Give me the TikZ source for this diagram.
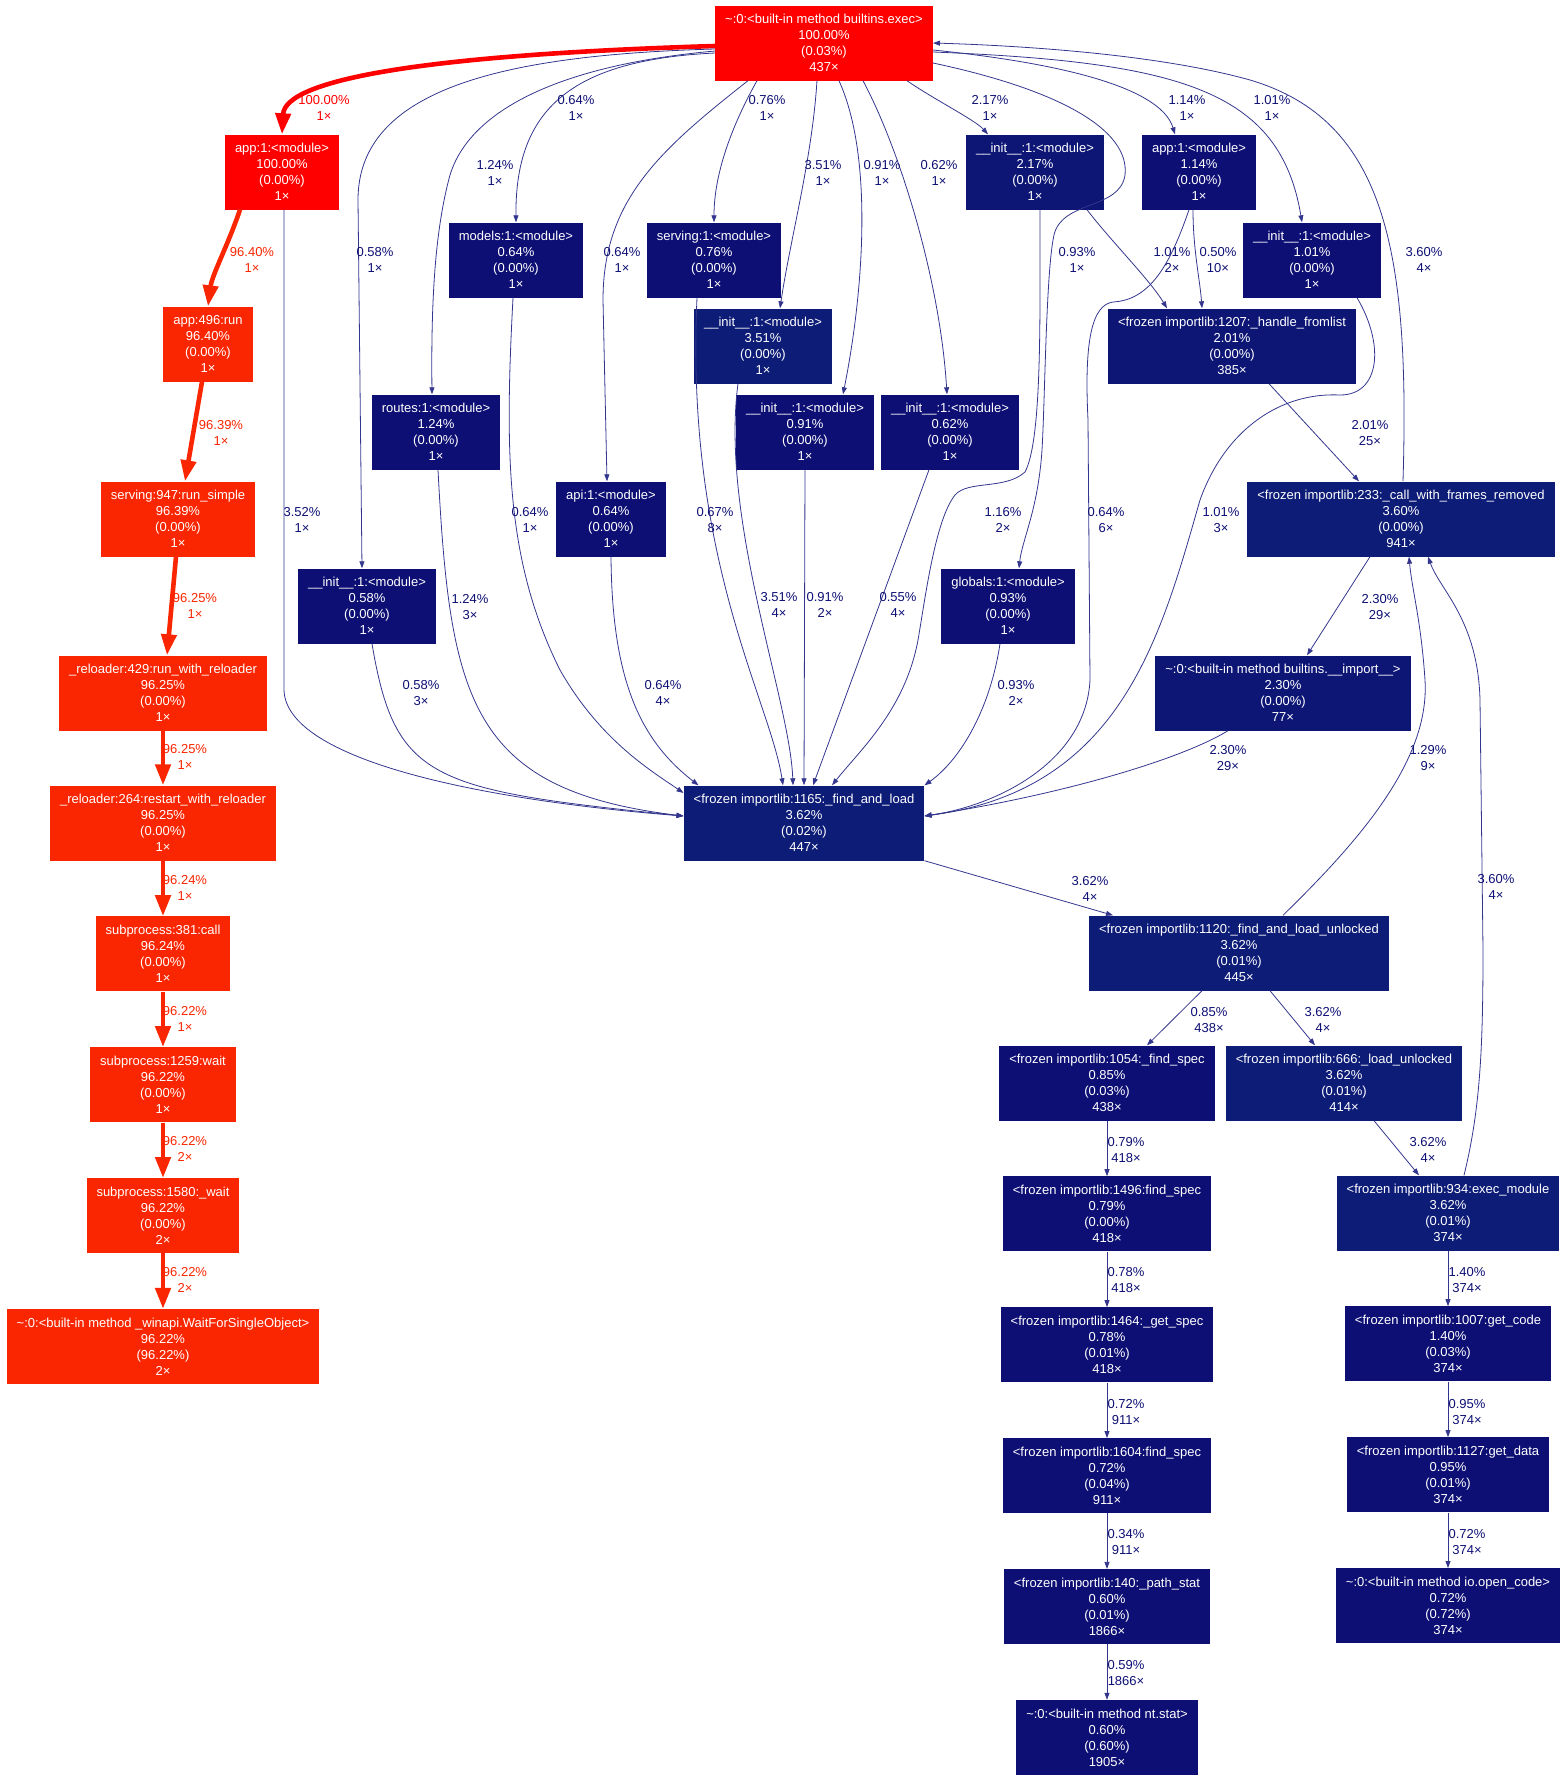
\documentclass[tikz,border=0pt]{standalone}
\usepackage{fontspec}
\setmainfont{Liberation Sans}
\usepackage{xcolor}
\definecolor{redhot}{RGB}{255,0,0}
\definecolor{redwarm}{RGB}{249,38,1}
\definecolor{navy}{RGB}{13,15,116}
\definecolor{navymid}{RGB}{13,22,117}
\definecolor{navyhi}{RGB}{13,28,119}
\definecolor{wire}{RGB}{52,54,142}
\usepackage{tikz}
\usetikzlibrary{arrows.meta,positioning}

\begin{document}
\begin{tikzpicture}[
  x=1pt,y=-1pt,
  fn/.style={rectangle,fill=#1,text=white,font=\fontsize{13}{16}\selectfont,
             align=center,inner xsep=10pt,inner ysep=0pt,minimum height=75pt},
  fn/.default=navy,
  lb/.style={font=\fontsize{13}{16}\selectfont,text=#1,align=center,inner sep=0pt},
  lb/.default=navy,
  ar/.style={draw=wire,line width=0.8pt,-{Triangle[length=7pt,width=5pt]}},
  hv/.style={draw=#1,line width=4.6pt,-{Triangle[length=21pt,width=15pt]}},
  node distance=55.5pt,
]
  \useasboundingbox (0,0) rectangle (1566,1781);

  % hot path
  \node[fn=redhot](exec) at (824,43){\textasciitilde:0:<built-in method builtins.exec>\\100.00\%\\(0.03\%)\\437×};
  \node[fn=redhot](app1) at (282,172){app:1:<module>\\100.00\%\\(0.00\%)\\1×};
  \node[fn=redwarm](run) at (208,344){app:496:run\\96.40\%\\(0.00\%)\\1×};
  \node[fn=redwarm](runsimple) at (178,519){serving:947:run\_simple\\96.39\%\\(0.00\%)\\1×};
  \node[fn=redwarm](rwr) at (163,693){\_reloader:429:run\_with\_reloader\\96.25\%\\(0.00\%)\\1×};
  \node[fn=redwarm](restart) at (163,823){\_reloader:264:restart\_with\_reloader\\96.25\%\\(0.00\%)\\1×};
  \node[fn=redwarm,below=of restart](call){subprocess:381:call\\96.24\%\\(0.00\%)\\1×};
  \node[fn=redwarm,below=of call](wait){subprocess:1259:wait\\96.22\%\\(0.00\%)\\1×};
  \node[fn=redwarm,below=of wait](pwait){subprocess:1580:\_wait\\96.22\%\\(0.00\%)\\2×};
  \node[fn=redwarm,below=of pwait](wfso){\textasciitilde:0:<built-in method \_winapi.WaitForSingleObject>\\96.22\%\\(96.22\%)\\2×};

  % modules
  \node[fn](models) at (516,260){models:1:<module>\\0.64\%\\(0.00\%)\\1×};
  \node[fn](serving) at (714,260){serving:1:<module>\\0.76\%\\(0.00\%)\\1×};
  \node[fn=navyhi](init351) at (763,346){\_\_init\_\_:1:<module>\\3.51\%\\(0.00\%)\\1×};
  \node[fn](routes) at (436,432){routes:1:<module>\\1.24\%\\(0.00\%)\\1×};
  \node[fn](init091) at (805,432){\_\_init\_\_:1:<module>\\0.91\%\\(0.00\%)\\1×};
  \node[fn](init062) at (950,432){\_\_init\_\_:1:<module>\\0.62\%\\(0.00\%)\\1×};
  \node[fn=navymid](init217) at (1035,172){\_\_init\_\_:1:<module>\\2.17\%\\(0.00\%)\\1×};
  \node[fn](app114) at (1199,172){app:1:<module>\\1.14\%\\(0.00\%)\\1×};
  \node[fn](init101) at (1312,260){\_\_init\_\_:1:<module>\\1.01\%\\(0.00\%)\\1×};
  \node[fn=navymid](fromlist) at (1232,346){<frozen importlib:1207:\_handle\_fromlist\\2.01\%\\(0.00\%)\\385×};
  \node[fn](api) at (611,519){api:1:<module>\\0.64\%\\(0.00\%)\\1×};
  \node[fn](init058) at (367,606){\_\_init\_\_:1:<module>\\0.58\%\\(0.00\%)\\1×};
  \node[fn](globals) at (1008,606){globals:1:<module>\\0.93\%\\(0.00\%)\\1×};

  % importlib
  \node[fn=navyhi](cwfr) at (1401,519){<frozen importlib:233:\_call\_with\_frames\_removed\\3.60\%\\(0.00\%)\\941×};
  \node[fn=navymid](import) at (1283,693){\textasciitilde:0:<built-in method builtins.\_\_import\_\_>\\2.30\%\\(0.00\%)\\77×};
  \node[fn=navyhi](fal) at (804,823){<frozen importlib:1165:\_find\_and\_load\\3.62\%\\(0.02\%)\\447×};
  \node[fn=navyhi](falu) at (1239,953){<frozen importlib:1120:\_find\_and\_load\_unlocked\\3.62\%\\(0.01\%)\\445×};
  \node[fn](fspec) at (1107,1083){<frozen importlib:1054:\_find\_spec\\0.85\%\\(0.03\%)\\438×};
  \node[fn=navyhi](lunl) at (1344,1083){<frozen importlib:666:\_load\_unlocked\\3.62\%\\(0.01\%)\\414×};
  \node[fn,below=of fspec](fspecb){<frozen importlib:1496:find\_spec\\0.79\%\\(0.00\%)\\418×};
  \node[fn=navyhi](exmod) at (1448,1213){<frozen importlib:934:exec\_module\\3.62\%\\(0.01\%)\\374×};
  \node[fn,below=of fspecb](getspec){<frozen importlib:1464:\_get\_spec\\0.78\%\\(0.01\%)\\418×};
  \node[fn,below=of exmod](getcode){<frozen importlib:1007:get\_code\\1.40\%\\(0.03\%)\\374×};
  \node[fn,below=of getspec](fspecc){<frozen importlib:1604:find\_spec\\0.72\%\\(0.04\%)\\911×};
  \node[fn,below=of getcode](getdata){<frozen importlib:1127:get\_data\\0.95\%\\(0.01\%)\\374×};
  \node[fn,below=of fspecc](pathstat){<frozen importlib:140:\_path\_stat\\0.60\%\\(0.01\%)\\1866×};
  \node[fn,below=of getdata](opencode){\textasciitilde:0:<built-in method io.open\_code>\\0.72\%\\(0.72\%)\\374×};
  \node[fn,below=of pathstat](ntstat){\textasciitilde:0:<built-in method nt.stat>\\0.60\%\\(0.60\%)\\1905×};

  % red edges
  \draw[hv=redhot]([yshift=-3pt]exec.west) .. controls (420,55) and (285,80) .. (app1.north);
  \draw[hv=redwarm]([xshift=-42pt]app1.south) .. controls (228,245) and (212,275) .. (run.north);
  \draw[hv=redwarm]([xshift=-6pt]run.south) -- ([xshift=7pt]runsimple.north);
  \draw[hv=redwarm]([xshift=-2pt]runsimple.south) -- ([xshift=4pt]rwr.north);
  \draw[hv=redwarm](rwr.south) -- (restart.north);
  \draw[hv=redwarm](restart.south) -- (call.north);
  \draw[hv=redwarm](call.south) -- (wait.north);
  \draw[hv=redwarm](wait.south) -- (pwait.north);
  \draw[hv=redwarm](pwait.south) -- (wfso.north);

  \node[lb=redhot](l-exec-app1) at (324,108){100.00\%\\1×};
  \node[lb=redwarm](l-app1-run) at (252,260){96.40\%\\1×};
  \node[lb=redwarm](l-run-rs) at (221,433){96.39\%\\1×};
  \node[lb=redwarm](l-rs-rwr) at (195,606){96.25\%\\1×};
  \node[lb=redwarm](l-rwr-rst) at (185,757){96.25\%\\1×};
  \node[lb=redwarm](l-rst-call) at (185,888){96.24\%\\1×};
  \node[lb=redwarm](l-call-wait) at (185,1019){96.22\%\\1×};
  \node[lb=redwarm](l-wait-pwait) at (185,1149){96.22\%\\2×};
  \node[lb=redwarm](l-pwait-wfso) at (185,1280){96.22\%\\2×};

  % calls out of exec
  \draw[ar]([yshift=-6pt]exec.west) .. controls (500,55) and (358,90) .. (358,200) -- ([xshift=-5pt]init058.north);
  \draw[ar]([yshift=-8pt]exec.west) .. controls (560,65) and (470,110) .. (450,175)
    .. controls (435,230) and (431,300) .. ([xshift=-4pt]routes.north);
  \draw[ar]([yshift=-10pt]exec.west) .. controls (570,60) and (515,110) .. (models.north);
  \draw[ar]([xshift=33pt]exec.south west) .. controls (660,150) and (603,200) .. (603,300) -- ([xshift=-4pt]api.north);
  \draw[ar]([xshift=42pt]exec.south west) .. controls (735,120) and (714,170) .. (serving.north);
  \draw[ar]([xshift=102pt]exec.south west) .. controls (812,160) and (790,240) .. ([xshift=17pt]init351.north);
  \draw[ar]([xshift=124pt]exec.south west) .. controls (875,160) and (862,300) .. ([xshift=38pt]init091.north);
  \draw[ar]([xshift=148pt]exec.south west) .. controls (900,150) and (940,280) .. ([xshift=-3pt]init062.north);
  \draw[ar]([xshift=192pt]exec.south west) .. controls (935,100) and (975,120) .. ([xshift=-47pt]init217.north);
  \draw[ar]([yshift=-7pt]exec.east) .. controls (1050,62) and (1160,85) .. ([xshift=-24pt]app114.north);
  \draw[ar]([yshift=-9pt]exec.east) .. controls (1180,62) and (1280,90) .. ([xshift=-10pt]init101.north);
  \draw[ar]([yshift=-20pt]exec.east) .. controls (1060,90) and (1130,130) .. (1125,175)
    .. controls (1120,210) and (1062,200) .. (1054,235)
    .. controls (1046,270) and (1045,400) .. (1042,450)
    .. controls (1038,510) and (1022,540) .. ([xshift=11pt]globals.north);
  \draw[ar]([xshift=2pt]cwfr.north) .. controls (1410,250) and (1385,120) .. (1250,80)
    .. controls (1150,52) and (1000,45) .. (exec.east);

  \node[lb](l-exec-init058) at (375,260){0.58\%\\1×};
  \node[lb](l-exec-routes) at (495,173){1.24\%\\1×};
  \node[lb](l-exec-models) at (576,108){0.64\%\\1×};
  \node[lb](l-exec-api) at (622,260){0.64\%\\1×};
  \node[lb](l-exec-serving) at (767,108){0.76\%\\1×};
  \node[lb](l-exec-init351) at (823,173){3.51\%\\1×};
  \node[lb](l-exec-init091) at (882,173){0.91\%\\1×};
  \node[lb](l-exec-init062) at (939,173){0.62\%\\1×};
  \node[lb](l-exec-init217) at (990,108){2.17\%\\1×};
  \node[lb](l-exec-app114) at (1187,108){1.14\%\\1×};
  \node[lb](l-exec-init101) at (1272,108){1.01\%\\1×};
  \node[lb](l-exec-globals) at (1077,260){0.93\%\\1×};
  \node[lb](l-cwfr-exec) at (1424,260){3.60\%\\4×};

  % into _find_and_load
  \draw[ar]([xshift=2pt]app1.south) -- (284,690) .. controls (286,760) and (480,800) .. ([yshift=7pt]fal.west);
  \draw[ar]([xshift=5pt]init058.south) .. controls (395,780) and (430,790) .. ([yshift=7pt]fal.west);
  \draw[ar]([xshift=2pt]routes.south) .. controls (450,700) and (470,790) .. ([yshift=7pt]fal.west);
  \draw[ar]([xshift=-3pt]models.south) .. controls (505,450) and (505,560) .. (560,670)
    .. controls (600,740) and (650,770) .. ([yshift=30pt]fal.west);
  \draw[ar](api.south) .. controls (612,680) and (640,740) .. ([xshift=15pt]fal.north west);
  \draw[ar]([xshift=-17pt]serving.south) .. controls (685,560) and (770,700) .. ([xshift=-21pt]fal.north);
  \draw[ar]([xshift=-25pt]init351.south) .. controls (720,520) and (790,700) .. ([xshift=-11pt]fal.north);
  \draw[ar](init091.south) -- (fal.north);
  \draw[ar]([xshift=-21pt]init062.south) -- ([xshift=9pt]fal.north);
  \draw[ar]([xshift=5pt]init217.south) .. controls (1040,320) and (1042,440) .. (1025,472)
    .. controls (1005,490) and (968,480) .. (955,495)
    .. controls (935,520) and (925,600) .. (918,640)
    .. controls (905,710) and (860,750) .. ([xshift=28pt]fal.north);
  \draw[ar]([xshift=-8pt]globals.south) .. controls (990,710) and (960,760) .. (fal.north east);
  \draw[ar]([xshift=-10pt]app114.south) .. controls (1170,265) and (1150,300) .. (1113,302)
    .. controls (1092,305) and (1084,340) .. (1088,420) -- (1090,680)
    .. controls (1086,760) and (1000,805) .. ([yshift=7pt]fal.east);
  \draw[ar]([xshift=45pt]init101.south) .. controls (1385,345) and (1380,395) .. (1340,395)
    .. controls (1280,392) and (1225,430) .. (1200,500)
    .. controls (1160,640) and (1120,790) .. ([yshift=7pt]fal.east);
  \draw[ar]([xshift=-55pt]import.south) .. controls (1180,760) and (1060,795) .. ([yshift=7pt]fal.east);

  \node[lb](l-app1-fal) at (302,520){3.52\%\\1×};
  \node[lb](l-models-fal) at (530,520){0.64\%\\1×};
  \node[lb](l-serving-fal) at (715,520){0.67\%\\8×};
  \node[lb](l-init217-fal) at (1003,520){1.16\%\\2×};
  \node[lb](l-app114-fal) at (1106,520){0.64\%\\6×};
  \node[lb](l-init101-fal) at (1221,520){1.01\%\\3×};
  \node[lb](l-routes-fal) at (470,607){1.24\%\\3×};
  \node[lb](l-init351-fal) at (779,605){3.51\%\\4×};
  \node[lb](l-init091-fal) at (825,605){0.91\%\\2×};
  \node[lb](l-init062-fal) at (898,605){0.55\%\\4×};
  \node[lb](l-init058-fal) at (421,693){0.58\%\\3×};
  \node[lb](l-api-fal) at (663,693){0.64\%\\4×};
  \node[lb](l-globals-fal) at (1016,693){0.93\%\\2×};
  \node[lb](l-imp-fal) at (1228,758){2.30\%\\29×};

  % importlib internals
  \draw[ar]([xshift=52pt]init217.south) .. controls (1110,240) and (1150,280) .. ([xshift=-65pt]fromlist.north);
  \draw[ar]([xshift=-6pt]app114.south) .. controls (1193,250) and (1200,280) .. ([xshift=-30pt]fromlist.north);
  \draw[ar]([xshift=37pt]fromlist.south) -- ([xshift=-42pt]cwfr.north);
  \draw[ar]([xshift=-31pt]cwfr.south) -- ([xshift=24pt]import.north);
  \draw[ar]([xshift=44pt]falu.north) .. controls (1360,840) and (1430,760) .. (1425,680)
    .. controls (1421,620) and (1412,590) .. ([xshift=8pt]cwfr.south);
  \draw[ar]([xshift=16pt]exmod.north) .. controls (1480,1110) and (1483,1050) .. (1483,950) -- (1480,700)
    .. controls (1478,620) and (1440,590) .. ([xshift=27pt]cwfr.south);
  \draw[ar](fal.south east) -- ([xshift=-126pt]falu.north);
  \draw[ar]([xshift=-37pt]falu.south) -- ([xshift=40pt]fspec.north);
  \draw[ar]([xshift=31pt]falu.south) -- ([xshift=-29pt]lunl.north);
  \draw[ar]([xshift=30pt]lunl.south) -- ([xshift=-29pt]exmod.north);
  \draw[ar](fspec.south) -- (fspecb.north);
  \draw[ar](fspecb.south) -- (getspec.north);
  \draw[ar](getspec.south) -- (fspecc.north);
  \draw[ar](fspecc.south) -- (pathstat.north);
  \draw[ar](pathstat.south) -- (ntstat.north);
  \draw[ar](exmod.south) -- (getcode.north);
  \draw[ar](getcode.south) -- (getdata.north);
  \draw[ar](getdata.south) -- (opencode.north);

  \node[lb](l-init217-fl) at (1172,260){1.01\%\\2×};
  \node[lb](l-app114-fl) at (1218,260){0.50\%\\10×};
  \node[lb](l-fl-cwfr) at (1370,433){2.01\%\\25×};
  \node[lb](l-cwfr-imp) at (1380,607){2.30\%\\29×};
  \node[lb](l-falu-cwfr) at (1428,758){1.29\%\\9×};
  \node[lb](l-exmod-cwfr) at (1496,887){3.60\%\\4×};
  \node[lb](l-fal-falu) at (1090,889){3.62\%\\4×};
  \node[lb](l-falu-fs) at (1209,1020){0.85\%\\438×};
  \node[lb](l-falu-lu) at (1323,1020){3.62\%\\4×};
  \node[lb](l-lu-exmod) at (1428,1150){3.62\%\\4×};
  \node[lb](l-fs-fsb) at (1126,1150){0.79\%\\418×};
  \node[lb](l-fsb-gs) at (1126,1280){0.78\%\\418×};
  \node[lb](l-exmod-gc) at (1467,1280){1.40\%\\374×};
  \node[lb](l-gs-fsc) at (1126,1412){0.72\%\\911×};
  \node[lb](l-gc-gd) at (1467,1412){0.95\%\\374×};
  \node[lb](l-fsc-ps) at (1126,1542){0.34\%\\911×};
  \node[lb](l-gd-oc) at (1467,1542){0.72\%\\374×};
  \node[lb](l-ps-nt) at (1126,1673){0.59\%\\1866×};
\end{tikzpicture}
\end{document}
